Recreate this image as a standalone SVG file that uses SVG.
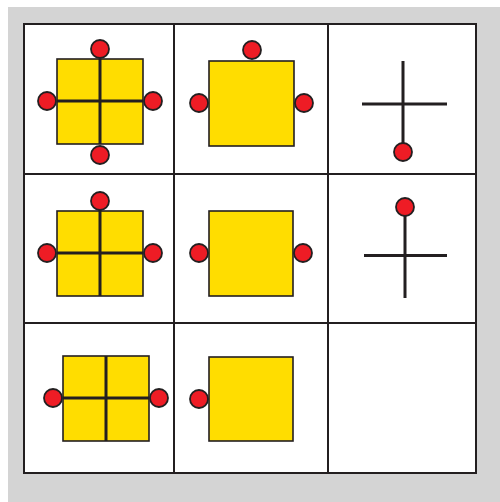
<svg xmlns="http://www.w3.org/2000/svg" width="500" height="502" viewBox="0 0 500 502">
<style>
.sq{fill:#FFDD00;stroke:#231F20;stroke-width:1.6}
.dv{stroke:#231F20;stroke-width:3;fill:none}
.dot{fill:#EE1C25;stroke:#231F20;stroke-width:1.8}
.grid{stroke:#231F20;stroke-width:2;fill:none}
.cellbg{fill:#fff;stroke:#231F20;stroke-width:2}
</style>
<rect x="0" y="0" width="500" height="502" fill="#fff"/>
<rect x="8" y="7" width="492" height="495" fill="#D4D4D4"/>
<g id="grid">
<rect class="cellbg" x="24" y="24" width="452" height="449"/>
<path class="grid" d="M174,24V473M328,24V473M24,174H476M24,323H476"/>
</g>
<g id="cell-1-1">
<rect class="sq" x="57" y="59" width="86" height="85"/>
<path class="dv" d="M100,59V144M57,101H143"/>
<circle class="dot" cx="100" cy="49" r="9"/>
<circle class="dot" cx="47" cy="101" r="9"/>
<circle class="dot" cx="153" cy="101" r="9"/>
<circle class="dot" cx="100" cy="155" r="9"/>
</g>
<g id="cell-1-2">
<rect class="sq" x="209" y="61" width="85" height="85"/>
<circle class="dot" cx="252" cy="50" r="9"/>
<circle class="dot" cx="199" cy="103" r="9"/>
<circle class="dot" cx="304" cy="103" r="9"/>
</g>
<g id="cell-1-3">
<path class="dv" d="M362,104H447M403,61V152"/>
<circle class="dot" cx="403" cy="152" r="9"/>
</g>
<g id="cell-2-1">
<rect class="sq" x="57" y="211" width="86" height="85"/>
<path class="dv" d="M100,201V296M57,253H143"/>
<circle class="dot" cx="100" cy="201" r="9"/>
<circle class="dot" cx="47" cy="253" r="9"/>
<circle class="dot" cx="153" cy="253" r="9"/>
</g>
<g id="cell-2-2">
<rect class="sq" x="209" y="211" width="84" height="85"/>
<circle class="dot" cx="199" cy="253" r="9"/>
<circle class="dot" cx="303" cy="253" r="9"/>
</g>
<g id="cell-2-3">
<path class="dv" d="M364,255.5H447M405,207V298"/>
<circle class="dot" cx="405" cy="207" r="9"/>
</g>
<g id="cell-3-1">
<rect class="sq" x="63" y="356" width="86" height="85"/>
<path class="dv" d="M106,356V441M63,398H149"/>
<circle class="dot" cx="53" cy="398" r="9"/>
<circle class="dot" cx="159" cy="398" r="9"/>
</g>
<g id="cell-3-2">
<rect class="sq" x="209" y="357" width="84" height="84"/>
<circle class="dot" cx="199" cy="399" r="9"/>
</g>
</svg>
